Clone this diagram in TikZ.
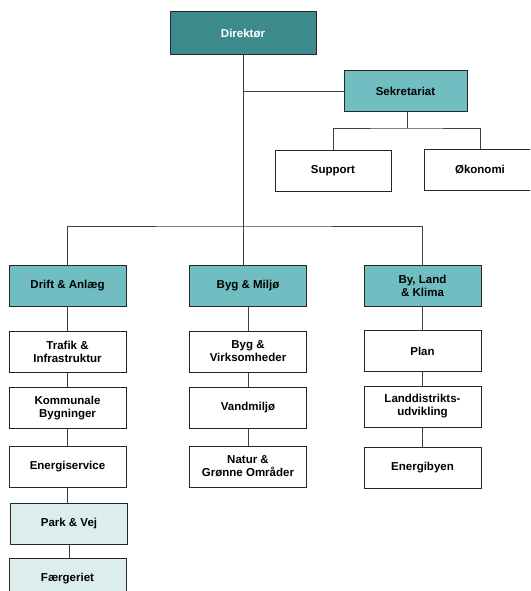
\documentclass[tikz,border=0pt]{standalone}
\usepackage{fontspec}
\setmainfont{Liberation Sans}
\usepackage{xcolor}
\usetikzlibrary{positioning, calc}

\definecolor{tealdark}{HTML}{3D8A8C}
\definecolor{teallight}{HTML}{70BEC2}
\definecolor{tealpale}{HTML}{DCEDEE}

\begin{document}
\begin{tikzpicture}[x=1pt, y=-1pt,
    unit/.style={draw=black!85, line width=1pt, fill=white, minimum width=117pt,
      minimum height=41pt, inner sep=2pt, align=center,
      font=\fontsize{11.5}{13}\selectfont\bfseries},
    head/.style={unit, fill=teallight},
    chief/.style={unit, fill=tealdark, text=white, minimum width=146pt, minimum height=43pt},
    pale/.style={unit, fill=tealpale},
    link/.style={draw=black!75, line width=0.9pt}]
    \clip (0,0) rectangle (530,591);

    % Top level
    \node[chief] (dir) at (243,33.5) {Direktør};
    \node[head, minimum width=123pt] (sek) at (405.5,91.5) {Sekretariat};
    \node[unit, minimum width=116pt] (support) at (333,170.5) {Support};
    \node[unit, minimum width=112pt] (okonomi) at (480,170) {Økonomi};

    % Departments
    \node[head] (drift) at (67.5,285.5) {Drift \& Anlæg};
    \node[head] (byg) at (248,285.5) {Byg \& Miljø};
    \node[head] (klima) at (422.5,285.5) {By, Land\\\& Klima};

    % Drift & Anlæg
    \node[unit] (trafik) at (67.5,351.5) {Trafik \&\\Infrastruktur};
    \node[unit] (kommunale) at (67.5,408) {Kommunale\\Bygninger};
    \node[unit] (energi) at (67.5,466.5) {Energiservice};
    \node[pale] (park) at (69,524) {Park \& Vej};
    \node[pale] (faerg) at (67.5,578.5) {Færgeriet};

    % Byg & Miljø
    \node[unit] (virk) at (248,351.5) {Byg \&\\Virksomheder};
    \node[unit] (vand) at (248,408) {Vandmiljø};
    \node[unit] (natur) at (248,466.5) {Natur \&\\Grønne Områder};

    % By, Land & Klima
    \node[unit] (plan) at (422.5,351) {Plan};
    \node[unit] (land) at (422.5,406.5) {Landdistrikts-\\udvikling};
    \node[unit] (energiby) at (422.5,467.5) {Energibyen};

    % Connectors
    \coordinate (trunk) at (243,226);
    \coordinate (sekbar) at (407,128);
    \draw[link] (dir.south) -- (dir.south |- byg.north);
    \draw[link] (drift.north) |- (trunk) -| (klima.north);
    \draw[link] (dir.south |- sek.west) -- (sek.west);
    \draw[link] (sek.south -| sekbar) -- (sekbar);
    \draw[link] (support.north) |- (sekbar) -| (okonomi.north);
    \foreach \a/\b in {drift/trafik, trafik/kommunale, kommunale/energi, energi/park,
      park/faerg, byg/virk, virk/vand, vand/natur, klima/plan, plan/land, land/energiby}
      \draw[link] (\a.south) -- (\a.south |- \b.north);
\end{tikzpicture}
\end{document}
